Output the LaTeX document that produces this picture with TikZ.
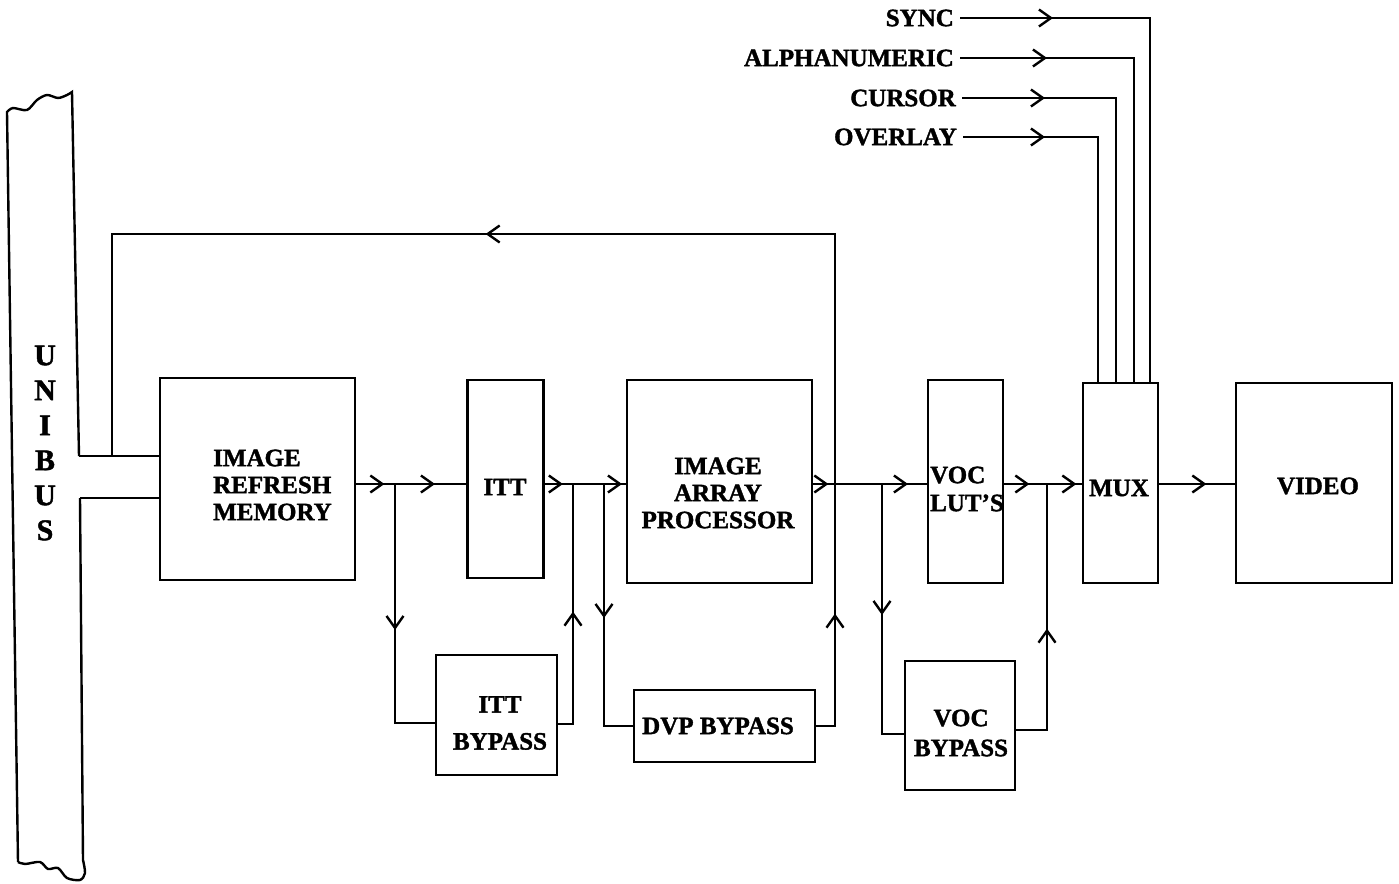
\documentclass[tikz,border=0pt]{standalone}
\usepackage{fontspec}
\setmainfont{Liberation Serif}[BoldFeatures={FakeBold=1.5}]
\usetikzlibrary{arrows.meta,decorations.markings}
\tikzset{
  tipshape/.tip={Straight Barb[length=12pt,width=17pt,line width=2.4pt]},
  ar/.style={postaction={decorate},decoration={markings,mark=at position #1 with {\arrow{tipshape}}}},
  ar2/.style 2 args={postaction={decorate},decoration={markings,mark=at position #1 with {\arrow{tipshape}},mark=at position #2 with {\arrow{tipshape}}}},
  box/.style 2 args={draw,line width=2.8pt,minimum width=#1,minimum height=#2,inner sep=0pt},
  lbl/.style={font=\bfseries\fontsize{25}{27}\selectfont,inner sep=0pt},
  inlbl/.style={lbl,anchor=east,inner xsep=5pt}
}
\begin{document}
\begin{tikzpicture}[x=1pt,y=-1pt,line width=2.4pt]
\useasboundingbox (0,0) rectangle (1399,883);

% UNIBUS strip
\coordinate (bt1) at (79,456);
\coordinate (bt2) at (80,498);
\draw (bt1) -- (72,92) -- plot[smooth] coordinates {(72,92) (67,95) (58,98) (47,95) (37,100) (27,110) (13,108) (7,112)} -- (18,862);
\draw (18,862) -- plot[smooth] coordinates {(18,862) (25,864) (40,862) (48,869) (58,868) (67,878) (80,880) (85,873) (83,860)} -- (bt2);
\node[lbl,font=\bfseries\fontsize{30}{35}\selectfont,align=center] (unibus) at (45,443) {U\\N\\I\\B\\U\\S};

% boxes
\node[box={195pt}{202pt}] (irm) at (257.5,479) {};
\node[box={76pt}{198pt}] (itt) at (505.5,479) {};
\node[box={185pt}{203pt}] (iap) at (719.5,481.5) {};
\node[box={75pt}{203pt}] (vlut) at (965.5,481.5) {};
\node[box={75pt}{200pt}] (mux) at (1120.5,483) {};
\node[box={156pt}{200pt}] (video) at (1314,483) {};
\node[box={121pt}{120pt}] (ittb) at (496.5,715) {};
\node[box={181pt}{72pt}] (dvpb) at (724.5,726) {};
\node[box={110pt}{129pt}] (vocb) at (960,725.5) {};

% box texts
\node[lbl,anchor=west,align=left] (irmt) at (212,485) {IMAGE\\REFRESH\\MEMORY};
\node[lbl] (ittt) at (505,487) {ITT};
\node[lbl,align=center] (iapt) at (718,493) {IMAGE\\ARRAY\\PROCESSOR};
\node[lbl,anchor=west,align=left] (vlutt) at (929,489) {VOC\\[1pt]LUT'S};
\node[lbl,align=center] (ittbt) at (500,723) {ITT\\[10pt]BYPASS};
\node[lbl] (dvpbt) at (718,726) {DVP BYPASS};
\node[lbl,align=center] (vocbt) at (961,733) {VOC\\[3pt]BYPASS};
\node[lbl] (muxt) at (1119,488) {MUX};
\node[lbl] (videot) at (1318,486) {VIDEO};

% top inputs
\node[inlbl] (sync) at (960,18) {SYNC};
\node[inlbl] (alpha) at (960,58) {ALPHANUMERIC};
\node[inlbl] (cursor) at (962,98) {CURSOR};
\node[inlbl] (overlay) at (963,137) {OVERLAY};
\coordinate (s1) at (1150,18);
\coordinate (s2) at (1134,58);
\coordinate (s3) at (1116,98);
\coordinate (s4) at (1098,137);
\draw[ar=93pt] (sync.east) -- (s1) -- (mux.north -| s1);
\draw[ar=87pt] (alpha.east) -- (s2) -- (mux.north -| s2);
\draw[ar=83pt] (cursor.east) -- (s3) -- (mux.north -| s3);
\draw[ar=82pt] (overlay.east) -- (s4) -- (mux.north -| s4);

% junctions
\coordinate (j1) at (395,484);
\coordinate (j2) at (573,484);
\coordinate (j3) at (604,484);
\coordinate (j4) at (835,484);
\coordinate (j5) at (882,484);
\coordinate (j6) at (1047,484);
\coordinate (fa) at (835,234);
\coordinate (fb) at (112,234);

% bus connections
\draw (bt1) -- (irm.west |- bt1);
\draw (bt2) -- (irm.west |- bt2);

% signal flow
\draw[ar=28pt] (irm.east |- j1) -- (j1);
\draw[ar=40pt] (j1) -- (itt.west |- j1);
\draw[ar=146pt] (j1) |- ([yshift=-8pt]ittb.west);
\draw[ar=18pt] (itt.east |- j2) -- (j2);
\draw[ar=49pt] (j2) -- (iap.west |- j2);
\draw[ar=127pt] ([yshift=-9pt]ittb.east) -| (j2);
\draw[ar=134pt] (j3) |- (dvpb.west);
\draw[ar=15pt] (iap.east |- j4) -- (j4);
\draw[ar2={131pt}{860pt}] (dvpb.east) -| (fa) -- (fb) -- (fb |- bt1);
\draw[ar=73pt] (j4) -- (vlut.west |- j5);
\draw[ar=131pt] (j5) |- ([yshift=-8.5pt]vocb.west);
\draw[ar2={25pt}{72pt}] (vlut.east |- j6) -- (mux.west |- j6);
\draw[ar=132pt] ([yshift=-4.5pt]vocb.east) -| (j6);
\draw[ar=47pt] (mux.east |- j6) -- (video.west |- j6);
\end{tikzpicture}
\end{document}
